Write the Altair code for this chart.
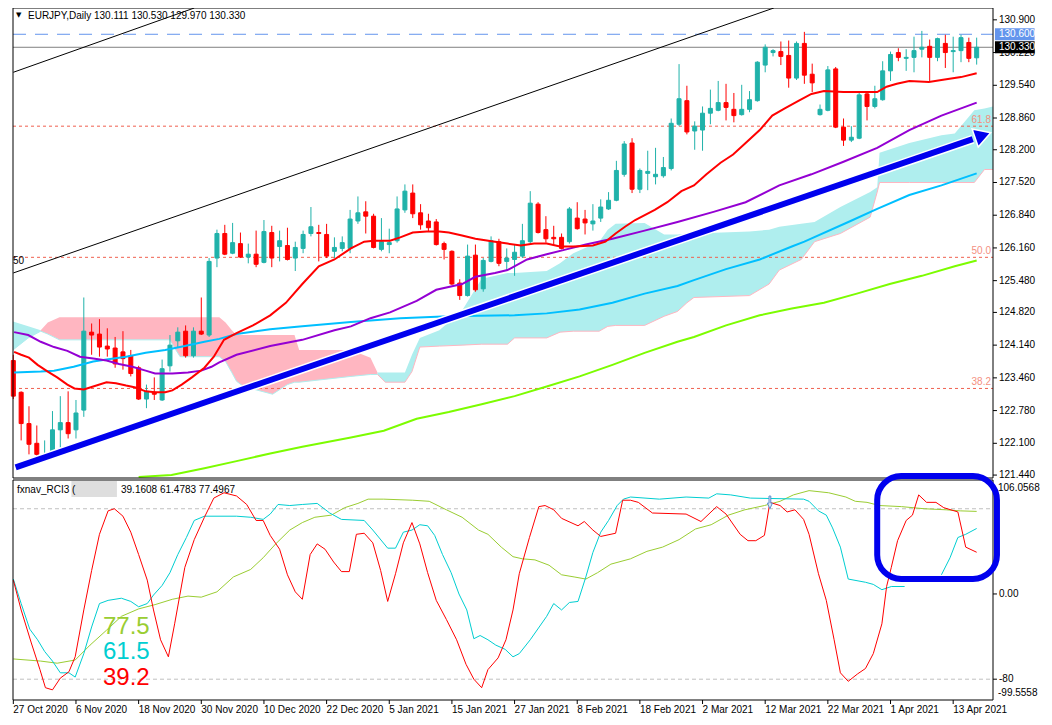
import altair as alt
import pandas as pd

# ---------------- data ----------------
DATE_LABELS = ["27 Oct 2020", "6 Nov 2020", "18 Nov 2020", "30 Nov 2020", "10 Dec 2020",
               "22 Dec 2020", "5 Jan 2021", "15 Jan 2021", "27 Jan 2021", "8 Feb 2021",
               "18 Feb 2021", "2 Mar 2021", "12 Mar 2021", "22 Mar 2021", "1 Apr 2021", "13 Apr 2021"]
DATE_BARS = [0, 8, 16, 24, 32, 40, 48, 56, 64, 72, 80, 88, 96, 104, 112, 120]
PRICE_TICKS = [130.9, 130.22, 129.54, 128.86, 128.2, 127.52, 126.84, 126.16, 125.48,
               124.82, 124.14, 123.46, 122.78, 122.1, 121.44]
PRICE_TICK_LABELS = ["130.900", "130.220", "129.540", "128.860", "128.200", "127.520", "126.840",
                     "126.160", "125.480", "124.820", "124.140", "123.460", "122.780", "122.100",
                     "121.440"]
RCI_TICKS = [0, -80]
RCI_TICK_LABELS = ["0.00", "-80"]

OPEN = [123.82, 123.16, 122.51, 122.10, 121.85, 121.93, 122.38, 122.53, 122.38, 122.79,
        124.41, 124.37, 124.12, 124.08, 124.00, 123.92, 123.67, 123.02, 123.16, 123.00,
        123.71, 124.23, 124.43, 123.92, 124.43, 124.35, 125.95, 126.46, 126.05, 126.25,
        125.97, 126.03, 125.86, 126.48, 126.19, 126.21, 125.95, 126.15, 126.46, 126.48,
        126.44, 126.09, 126.15, 126.15, 126.72, 126.91, 126.82, 126.13, 126.23, 126.31,
        126.95, 127.30, 126.89, 126.72, 126.70, 126.25, 126.09, 125.43, 125.17, 126.01,
        125.31, 125.88, 126.29, 125.88, 125.92, 125.99, 126.29, 127.07, 126.54, 126.38,
        126.38, 126.29, 126.78, 126.76, 126.66, 126.78, 126.97, 127.15, 127.69, 128.34,
        127.38, 127.71, 127.64, 127.66, 127.81, 128.73, 129.22, 128.59, 128.61, 128.96,
        129.02, 129.18, 129.04, 128.93, 129.04, 129.22, 129.96, 130.22, 130.24, 130.16,
        129.69, 130.41, 129.77, 128.93, 129.02, 129.88, 128.67, 128.40, 128.44, 129.36,
        129.10, 129.24, 129.84, 130.22, 130.10, 130.12, 130.29, 130.35, 130.12, 130.41,
        130.24, 130.26, 130.43, 130.111]
HIGH = [123.94, 123.18, 122.87, 122.47, 122.16, 122.77, 123.08, 123.18, 123.00, 125.13,
        124.59, 124.68, 124.49, 124.31, 124.43, 124.04, 123.71, 123.32, 123.47, 123.84,
        124.35, 124.51, 124.55, 124.51, 125.13, 125.95, 126.54, 126.64, 126.68, 126.48,
        126.25, 126.52, 126.74, 126.62, 126.52, 126.58, 126.29, 126.52, 127.01, 126.64,
        126.66, 126.38, 126.40, 126.95, 127.23, 127.13, 126.87, 126.78, 126.56, 127.23,
        127.48, 127.48, 127.07, 126.87, 126.76, 126.29, 126.11, 125.51, 126.23, 126.23,
        125.95, 126.40, 126.35, 126.15, 126.23, 126.66, 127.34, 127.11, 126.82, 126.62,
        126.46, 127.01, 127.11, 126.95, 127.07, 127.17, 127.32, 127.97, 128.38, 128.44,
        127.81, 128.18, 128.24, 128.05, 128.85, 129.98, 129.53, 128.79, 129.10, 129.45,
        129.63, 129.57, 129.38, 129.55, 129.42, 130.04, 130.39, 130.29, 130.45, 130.47,
        130.45, 130.65, 129.99, 129.14, 129.94, 129.92, 128.85, 128.69, 129.40, 129.40,
        129.53, 130.04, 130.24, 130.31, 130.29, 130.55, 130.67, 130.49, 130.53, 130.59,
        130.55, 130.59, 130.53, 130.530]
LOW = [123.02, 122.16, 121.87, 121.79, 121.83, 121.89, 121.99, 122.20, 122.20, 122.65,
       123.94, 123.90, 123.90, 123.67, 123.63, 123.49, 123.00, 122.83, 123.00, 122.98,
       123.59, 124.10, 123.88, 123.88, 124.35, 124.31, 125.76, 126.01, 126.03, 125.95,
       125.84, 125.76, 125.84, 125.76, 125.88, 125.90, 125.68, 126.05, 126.40, 125.88,
       125.95, 125.95, 126.09, 126.05, 126.66, 126.46, 126.15, 126.09, 126.05, 126.27,
       126.89, 126.78, 126.54, 126.50, 126.21, 125.92, 125.39, 125.08, 125.15, 125.25,
       125.25, 125.86, 125.78, 125.70, 125.58, 125.95, 126.25, 126.46, 126.27, 126.21,
       126.13, 126.25, 126.54, 126.44, 126.52, 126.70, 126.95, 127.13, 127.64, 127.30,
       127.30, 127.36, 127.48, 127.62, 127.77, 128.69, 128.52, 128.20, 128.18, 128.73,
       129.00, 128.81, 128.77, 128.91, 128.98, 129.20, 129.81, 130.14, 129.96, 129.49,
       129.65, 129.57, 129.40, 128.91, 129.00, 128.65, 128.28, 128.36, 128.42, 128.81,
       129.06, 129.22, 129.63, 130.04, 129.84, 129.81, 130.12, 129.63, 130.04, 129.90,
       129.81, 130.02, 130.02, 129.970]
CLOSE = [123.08, 122.51, 122.08, 121.87, 121.87, 122.38, 122.53, 122.30, 122.73, 124.43,
         124.35, 124.10, 124.06, 123.75, 123.86, 123.55, 123.02, 123.18, 123.12, 123.65,
         124.14, 124.41, 123.92, 124.43, 124.37, 125.88, 126.46, 126.03, 126.27, 125.97,
         126.03, 125.82, 126.50, 125.95, 126.31, 125.92, 126.17, 126.44, 126.60, 126.46,
         125.99, 126.17, 126.27, 126.76, 126.89, 126.82, 126.17, 126.29, 126.27, 126.97,
         127.34, 126.87, 126.64, 126.58, 126.23, 126.13, 125.41, 125.17, 125.99, 125.29,
         125.90, 126.31, 125.84, 125.95, 126.07, 126.31, 127.09, 126.48, 126.35, 126.35,
         126.15, 126.97, 126.56, 126.68, 126.72, 127.01, 127.15, 127.77, 128.32, 127.38,
         127.77, 127.75, 127.69, 127.83, 128.75, 129.26, 128.57, 128.69, 128.96, 129.06,
         129.18, 129.08, 128.91, 129.04, 129.24, 130.02, 130.33, 130.26, 130.14, 129.69,
         130.41, 129.75, 129.59, 129.04, 129.86, 128.67, 128.40, 128.46, 129.34, 129.10,
         129.26, 129.84, 130.18, 130.12, 130.12, 130.26, 130.33, 130.12, 130.51, 130.22,
         130.26, 130.53, 130.10, 130.330]

RED_MA_X = [0.1, 1, 2, 3.1, 4.4, 5.6, 6.9, 7.8, 9, 10.2, 11.9, 13.1, 14.4, 15.6, 16.9, 18.1, 19.4,
            20.3, 21.5, 22.8, 24.4, 25.6, 26.9, 28.5, 30.6, 32.8, 34.8, 36.9, 39, 41, 43.1, 44.8,
            46, 48.1, 49.4, 51, 52.8, 54.4, 55.6, 57.3, 59, 61.5, 63.1, 64.8, 66.5, 68.1, 69.8,
            71.5, 74, 75.6, 76.9, 78.1, 79.4, 81.9, 83.5, 85.3, 86.9, 88.5, 90.3, 91.9, 93.5,
            95.3, 96.9, 98.5, 100.3, 101.9, 103.5, 106, 108.5, 110.3, 111.5, 112.8, 114.4,
            116.9, 118.5, 121, 123]
RED_MA_Y = [124.00, 123.94, 123.88, 123.73, 123.59, 123.47, 123.32, 123.24, 123.22, 123.28,
            123.37, 123.35, 123.30, 123.26, 123.18, 123.16, 123.16, 123.20, 123.32, 123.47,
            123.67, 123.90, 124.25, 124.39, 124.55, 124.76, 125.02, 125.41, 125.78, 125.92,
            126.15, 126.29, 126.31, 126.31, 126.38, 126.48, 126.50, 126.50, 126.48, 126.42,
            126.35, 126.29, 126.25, 126.21, 126.25, 126.25, 126.19, 126.19, 126.21, 126.29,
            126.46, 126.60, 126.74, 126.95, 127.11, 127.34, 127.46, 127.69, 127.93, 128.10,
            128.34, 128.61, 128.91, 129.06, 129.22, 129.36, 129.42, 129.40, 129.40, 129.40,
            129.51, 129.57, 129.63, 129.61, 129.65, 129.71, 129.79]
PURPLE_MA_X = [0.1, 1.9, 3.5, 5.2, 6.9, 8.5, 10.2, 11.9, 13.5, 15.2, 16.9, 18.1, 20.3, 22.3, 24,
               25.3, 26.3, 28.5, 32.8, 36.9, 41, 43.1, 45.6, 48.1, 51.5, 54, 57.3, 59, 61.5,
               63.1, 65.6, 68.1, 70.6, 73.1, 76.5, 80.6, 84.8, 89.4, 93.5, 97.8, 101.9, 106,
               110.3, 114.4, 118.5, 123]
PURPLE_MA_Y = [124.41, 124.35, 124.21, 124.10, 124.02, 123.90, 123.86, 123.82, 123.75, 123.69,
               123.61, 123.55, 123.55, 123.57, 123.61, 123.69, 123.78, 123.94, 124.12, 124.25,
               124.45, 124.53, 124.70, 124.82, 125.06, 125.29, 125.41, 125.56, 125.64, 125.70,
               125.92, 126.03, 126.13, 126.23, 126.35, 126.52, 126.70, 126.91, 127.11, 127.46,
               127.69, 127.95, 128.24, 128.61, 128.91, 129.18]
BLUE_MA_X = [0.1, 3.5, 5.2, 7.7, 10.2, 11.9, 14.4, 16.9, 19.4, 21.9, 24.4, 26.3, 28.5, 32.8,
             36.9, 43.1, 49.4, 55.6, 64, 68.1, 72.3, 76.5, 80.6, 84.8, 86.9, 91, 95.3, 99.4,
             101, 106.9, 110.3, 114.4, 118.5, 123]
BLUE_MA_Y = [123.57, 123.59, 123.61, 123.69, 123.80, 123.84, 123.90, 123.98, 124.04, 124.12,
             124.21, 124.27, 124.37, 124.47, 124.53, 124.62, 124.70, 124.74, 124.76, 124.80,
             124.88, 125.02, 125.21, 125.37, 125.49, 125.72, 125.92, 126.19, 126.29, 126.72,
             126.97, 127.26, 127.46, 127.71]
GREEN_MA_X = [16, 20.2, 24.4, 28.5, 32.8, 36.9, 43.1, 47.3, 51.5, 55.6, 59.8, 64, 68.1, 72.3,
              76.5, 80.6, 84.8, 86.9, 91, 95.3, 99.4, 103.5, 107.7, 111.9, 116, 120.2, 123]
GREEN_MA_Y = [121.40, 121.44, 121.58, 121.73, 121.89, 122.03, 122.22, 122.36, 122.61, 122.75,
              122.91, 123.08, 123.28, 123.49, 123.73, 123.98, 124.21, 124.31, 124.55, 124.76,
              124.90, 125.02, 125.21, 125.41, 125.58, 125.78, 125.90]

# Ichimoku cloud: three pieces (cyan, pink, cyan)
CLOUD0_X = [-0.04, 1.9, 3.5]
CLOUD0_TOP = [124.63, 124.53, 124.45]
CLOUD0_BOT = [124.04, 124.29, 124.43]
CLOUD1_X = [3.5, 4.4, 5.9, 20, 20.6, 21.3, 26.3, 27.1, 27.9, 28.5, 29.4, 33.1, 35, 35.9, 36.5,
            43.1, 45.6, 46.5]
CLOUD1_TOP = [124.45, 124.61, 124.72, 124.72, 124.72, 124.72, 124.72, 124.61, 124.45, 124.35,
              124.35, 124.35, 124.35, 124.35, 124.04, 124.04, 123.88, 123.57]
CLOUD1_BOT = [124.43, 124.37, 124.25, 124.25, 124.08, 123.90, 123.90, 123.80, 123.57, 123.39,
              123.28, 123.12, 123.32, 123.37, 123.37, 123.49, 123.53, 123.53]
CLOUD2_X = [46.5, 47.5, 50, 50.9, 51.9, 54.4, 57.3, 59.8, 63.1, 64, 68.1, 69.8, 71.5, 74.8, 75.9,
            76.9, 80.6, 83.1, 84.8, 86, 86.9, 94, 96.5, 97.8, 100.6, 102.3, 105.6, 109.4, 110.3,
            110.6, 114.4, 118.5, 120.2, 122.7, 124, 125.08]
CLOUD2_TOP = [123.57, 123.57, 123.57, 123.94, 124.29, 124.45, 124.86, 125.52, 125.64, 125.64,
              125.68, 125.84, 126.05, 126.29, 126.54, 126.66, 126.68, 126.44, 126.44, 126.46,
              126.46, 126.50, 126.54, 126.60, 126.66, 126.70, 127.01, 127.32, 127.42, 128.14,
              128.34, 128.50, 128.54, 129.02, 129.06, 129.10]
CLOUD2_BOT = [123.53, 123.37, 123.37, 123.59, 124.10, 124.12, 124.14, 124.16, 124.16, 124.29,
              124.29, 124.41, 124.43, 124.43, 124.53, 124.55, 124.55, 124.74, 124.84, 125.02,
              125.13, 125.17, 125.41, 125.70, 125.92, 126.29, 126.46, 126.80, 127.32, 127.52,
              127.52, 127.52, 127.52, 127.52, 127.79, 127.79]

FIB_LEVELS = [128.69, 125.965, 123.24]
FIB_LABELS = ["61.8", "50.0", "38.2"]
CHANNEL1_X = [0, 23.1]
CHANNEL1_Y = [129.81, 131.146]
CHANNEL2_X = [0, 97.1]
CHANNEL2_Y = [125.64, 131.146]
TREND_X = [0.3, 122.5]
TREND_Y = [121.60, 128.42]
ARROW_HEAD = (123.8, 128.50)
ASK_LINE = 130.60
LAST_PRICE = 130.33

RCI_RED_X = [0, 1, 2.3, 3.4, 4.1, 5, 6, 7.1, 7.9, 9, 10, 11, 12.1, 12.9, 14, 15, 16, 17.1, 17.9,
             18.8, 19.8, 20.6, 21.9, 23.1, 24.4, 25.6, 26.9, 28.5, 29.8, 31, 31.9, 32.8, 34, 35,
             36, 36.9, 37.9, 38.8, 39.8, 40.9, 41.9, 42.9, 43.8, 44.8, 45.9, 46.9, 47.8, 48.8,
             49.8, 50.9, 51.9, 52.9, 54, 55.3, 56.6, 57.8, 58.8, 59.8, 60.6, 61.9, 62.9, 63.8,
             64.6, 65.9, 67.1, 67.9, 69, 70, 72.1, 72.9, 74, 75, 76.9, 77.8, 78.8, 79.8, 81.6,
             85.9, 87.8, 89.8, 91, 92.8, 93.8, 94.8, 95.9, 96.6, 97.9, 98.8, 99.8, 100.9, 101.6,
             102.8, 103.8, 104.8, 105.6, 106.6, 107.8, 108.8, 109.8, 110.9, 111.5, 112.1, 112.9,
             114, 114.8, 115.6, 116.6, 117.8, 118.8, 120.6, 121.6, 123]
RCI_RED_V = [13, -15, -46, -71, -88, -90, -79, -73, -59, -15, 22, 56, 78, 80, 73, 58, 37, 13, -15,
             -43, -59, -28, 25, 51, 72, 90, 95, 92, 84, 69, 69, 55, 42, 18, 2, -5, 37, 47, 42, 30,
             21, 21, 56, 57, 48, 22, -7, 19, 48, 67, 47, 20, -6, -24, -43, -66, -80, -88, -71,
             -60, -43, -15, 19, 53, 82, 83, 79, 71, 64, 68, 60, 54, 57, 88, 88, 86, 76, 75, 68,
             82, 75, 56, 50, 50, 55, 86, 83, 77, 79, 70, 56, 19, -6, -43, -74, -82, -75, -70,
             -56, -28, 7, 25, 50, 69, 74, 93, 86, 86, 81, 77, 44, 39.16]
RCI_CYAN_X = [0, 1, 2.1, 3.1, 4, 5, 6, 7.1, 7.9, 9, 10, 11, 12.1, 13.8, 15, 16, 17.1, 17.9, 19, 20,
              21, 22.1, 23.1, 24.4, 28.5, 30.3, 31.9, 32.8, 33.8, 35.3, 36.9, 38.8, 40.4, 41.9,
              44.8, 45.9, 47.8, 48.8, 49.8, 50.9, 51.9, 52.9, 53.8, 54.8, 55.9, 56.9, 57.9, 58.8,
              59.6, 60.6, 61.6, 62.8, 63.8, 64.6, 66, 68.1, 69, 70, 71, 72.1, 73.1, 74, 75, 76,
              77.1, 77.9, 78.8, 82.5, 85.9, 88.8, 89.8, 91.6, 94.1, 100.9, 101.6, 102.8, 103.8,
              104.6, 105.6, 106.6, 108.8, 109.8, 110.9, 112.1, 113.8]
RCI_CYAN_V = [14, -9, -33, -43, -54, -63, -74, -74, -78, -56, -31, -9, -6, -4, -7, -12, -9, -1, 8,
              20, 37, 53, 69, 73, 73, 72, 70, 75, 84, 83, 84, 85, 76, 70, 69, 60, 43, 43, 58, 60,
              65, 64, 55, 37, 20, 0, -15, -42, -39, -43, -48, -52, -59, -56, -43, -21, -9, -15,
              -8, -7, 16, 39, 58, 69, 83, 89, 91, 89, 91, 90, 94, 93, 90, 89, 87, 78, 74, 62, 44,
              14, 11, 9, 4, 7, 7]
RCI_CYAN2_X = [118.5, 119.6, 120.6, 121.6, 123]
RCI_CYAN2_V = [18, 34, 53, 56, 61.48]
RCI_GREEN_X = [0, 3.5, 5.6, 7.9, 9.8, 11.9, 13.8, 16, 18.1, 20.3, 22.3, 24, 26, 28.1, 30.3, 31.9,
               33.5, 35.3, 36.9, 38.5, 40.6, 42.3, 44, 45.3, 47.3, 51, 53.1, 55.3, 57.3, 59.4,
               60.6, 62.3, 63.8, 65, 66.6, 68.4, 70, 71.6, 73.1, 74.6, 76.3, 78.8, 80.9, 82.9, 85,
               87.1, 89.1, 91.3, 93.4, 95.9, 97.9, 99.6, 101.6, 104.1, 106.3, 107.5, 109, 110.6,
               113.4, 116.3, 119.1, 120.9, 123]
RCI_GREEN_V = [-61, -63, -65, -62, -48, -34, -21, -14, -10, -5, -2, -3, 2, 16, 23, 34, 47, 60, 67,
               72, 74, 81, 85, 89, 89, 88, 87, 79, 72, 60, 56, 44, 35, 33, 32, 27, 18, 16, 14, 20,
               28, 33, 40, 44, 51, 61, 65, 74, 79, 83, 87, 93, 97, 95, 91, 87, 86, 83, 82, 80, 79,
               78, 77.5]
RCI_LEVELS = [80, -80]
RCI_BOX = (110.3, 125.59, 110.7, 14.1)   # x1, x2, v_top, v_bottom
RCI_SIGNAL = (96.6, 86)
RCI_BIG = ["77.5", "61.5", "39.2"]
RCI_BIG_POS = [-38.0, -61.5, -85.0]

# ---------------- geometry ----------------
X0, X1 = -0.04, 125.085            # bar-index range of the plot
P_LO, P_HI = 121.379, 131.146      # visible price range (upper panel)
R_LO, R_HI = -99.53, 106.98        # visible RCI range (lower panel)
PLOT_W, PLOT_H = 990, 692
UP_H, GAP = 470, 2
P_PER_PX = (P_HI - P_LO) / UP_H
R_PER_PX = (R_HI - R_LO) / (PLOT_H - UP_H - GAP)
P_DOMAIN = [P_HI - PLOT_H * P_PER_PX, P_HI]
R_DOMAIN = [R_LO, R_LO + PLOT_H * R_PER_PX]
BAR_PX = PLOT_W / (X1 - X0)

FONT = "Liberation Sans"
BULL, BEAR = "#20b2aa", "#ff0000"
xs = alt.Scale(domain=[X0, X1], nice=False, zero=False)
ps = alt.Scale(domain=P_DOMAIN, nice=False, zero=False)
rs = alt.Scale(domain=R_DOMAIN, nice=False, zero=False)

def X(f="i"):
    return alt.X(f"{f}:Q", scale=xs, axis=None)

def Y(f):
    return alt.Y(f"{f}:Q", scale=ps, axis=None)

def R(f):
    return alt.Y(f"{f}:Q", scale=rs, axis=None)

def pt(x, y):
    return pd.DataFrame({"i": [x], "v": [y]})

# ---------------- upper (price) panel ----------------
candles = pd.DataFrame({"i": list(range(len(OPEN))), "o": OPEN, "h": HIGH, "l": LOW, "c": CLOSE})
candles["col"] = [BULL if c >= o else BEAR for o, c in zip(OPEN, CLOSE)]

cloud_rows = []
for seg, (xx, tt, bb, fill, edge) in enumerate([
        (CLOUD0_X, CLOUD0_TOP, CLOUD0_BOT, "#afeeee", "#afeeee"),
        (CLOUD1_X, CLOUD1_TOP, CLOUD1_BOT, "#ffb6c1", "#afeeee"),
        (CLOUD2_X, CLOUD2_TOP, CLOUD2_BOT, "#afeeee", "#ffb6c1")]):
    for a, b, c in zip(xx, tt, bb):
        cloud_rows.append({"i": a, "top": b, "bot": c, "seg": seg, "fill": fill, "edge": edge})
cloud = pd.DataFrame(cloud_rows)

layers = []
layers.append(alt.Chart(cloud).mark_area(opacity=1).encode(
    x=X(), y=Y("top"), y2="bot:Q", color=alt.Color("fill:N", scale=None), detail="seg:N"))
layers.append(alt.Chart(cloud).mark_line(strokeWidth=1).encode(
    x=X(), y=Y("bot"), color=alt.Color("edge:N", scale=None), detail="seg:N"))

fib = pd.DataFrame({"v": FIB_LEVELS, "t": FIB_LABELS, "x0": [X0] * 3, "x1": [X1] * 3})
layers.append(alt.Chart(fib).mark_rule(color="#f0604f", strokeDash=[3, 3], strokeWidth=1).encode(
    x=X("x0"), x2="x1:Q", y=Y("v")))

hl = pd.DataFrame({"v": [ASK_LINE, LAST_PRICE], "x0": [X0, X0], "x1": [X1, X1], "k": ["ask", "last"]})
layers.append(alt.Chart(hl[hl.k == "ask"]).mark_rule(color="#6495ed", strokeDash=[13, 9]).encode(
    x=X("x0"), x2="x1:Q", y=Y("v")))
layers.append(alt.Chart(hl[hl.k == "last"]).mark_rule(color="#808080").encode(
    x=X("x0"), x2="x1:Q", y=Y("v")))

chan = pd.DataFrame({"i": CHANNEL1_X + CHANNEL2_X, "v": CHANNEL1_Y + CHANNEL2_Y, "k": [1, 1, 2, 2]})
layers.append(alt.Chart(chan).mark_line(color="black", strokeWidth=1).encode(
    x=X(), y=Y("v"), detail="k:N"))

layers.append(alt.Chart(candles).mark_rule(strokeWidth=1).encode(
    x=X(), y=Y("l"), y2="h:Q", color=alt.Color("col:N", scale=None)))
layers.append(alt.Chart(candles).mark_bar(size=4, strokeWidth=1).encode(
    x=X(), y=Y("o"), y2="c:Q", color=alt.Color("col:N", scale=None), stroke=alt.Color("col:N", scale=None)))

ma_rows = []
for name, xx, vv, col in [("g", GREEN_MA_X, GREEN_MA_Y, "#7cfc00"), ("b", BLUE_MA_X, BLUE_MA_Y, "#00bfff"),
                          ("p", PURPLE_MA_X, PURPLE_MA_Y, "#9400d3"), ("r", RED_MA_X, RED_MA_Y, "#ff0000")]:
    for a, b in zip(xx, vv):
        ma_rows.append({"i": a, "v": b, "ma": name, "col": col})
layers.append(alt.Chart(pd.DataFrame(ma_rows)).mark_line(strokeWidth=2).encode(
    x=X(), y=Y("v"), color=alt.Color("col:N", scale=None), detail="ma:N"))

trend = pd.DataFrame({"i": TREND_X, "v": TREND_Y})
layers.append(alt.Chart(trend).mark_line(color="white", strokeWidth=9).encode(x=X(), y=Y("v")))
layers.append(alt.Chart(trend).mark_line(color="#0000ee", strokeWidth=6).encode(x=X(), y=Y("v")))
layers.append(alt.Chart(pt(*ARROW_HEAD)).mark_point(
    shape="triangle-right", size=360, filled=True, fill="#0000ee", stroke="white", strokeWidth=1.5,
    opacity=1, angle=341).encode(x=X(), y=Y("v")))

layers.append(alt.Chart(fib).mark_text(align="right", baseline="bottom", dx=-2, dy=-1, font=FONT,
                                       fontSize=10, color="#f4907f").encode(x=X("x1"), y=Y("v"), text="t:N"))
layers.append(alt.Chart(pt(X0, FIB_LEVELS[1])).mark_text(
    align="left", baseline="top", dy=-1, font=FONT, fontSize=10, color="black", text="50").encode(
    x=X(), y=Y("v")))

layers.append(alt.Chart(pd.DataFrame({"x0": [X0], "x1": [X1], "a": [P_HI], "b": [P_LO]})).mark_rect(
    fillOpacity=0, stroke="black", strokeWidth=1).encode(x=X("x0"), x2="x1:Q", y=Y("a"), y2="b:Q"))

pticks = pd.DataFrame({"v": PRICE_TICKS, "t": PRICE_TICK_LABELS, "x0": [X1] * len(PRICE_TICKS),
                       "x1": [X1 + 4 / BAR_PX] * len(PRICE_TICKS)})
layers.append(alt.Chart(pticks).mark_rule(color="black", strokeWidth=1).encode(
    x=X("x0"), x2="x1:Q", y=Y("v")))
layers.append(alt.Chart(pticks).mark_text(font=FONT, fontSize=10, align="left", baseline="middle",
                                          dx=6, color="black").encode(x=X("x0"), y=Y("v"), text="t:N"))

boxes = pd.DataFrame({"v": [ASK_LINE, LAST_PRICE], "lo": [ASK_LINE - 6 * P_PER_PX, LAST_PRICE - 6 * P_PER_PX],
                      "hi": [ASK_LINE + 6 * P_PER_PX, LAST_PRICE + 6 * P_PER_PX],
                      "x0": [X1 + 2 / BAR_PX] * 2, "x1": [X1 + 42 / BAR_PX] * 2,
                      "fill": ["#6495ed", "#000000"], "t": ["130.600", "130.330"]})
layers.append(alt.Chart(boxes).mark_rect().encode(
    x=X("x0"), x2="x1:Q", y=Y("lo"), y2="hi:Q", color=alt.Color("fill:N", scale=None)))
layers.append(alt.Chart(boxes).mark_text(font=FONT, fontSize=10, color="white", align="left", dx=4).encode(
    x=X("x0"), y=Y("v"), text="t:N"))

layers.append(alt.Chart(pt(X0, P_HI)).mark_text(
    text="▼", font="DejaVu Sans", fontSize=7, align="left", baseline="alphabetic", dx=3, dy=9).encode(
    x=X(), y=Y("v")))
layers.append(alt.Chart(pt(X0, P_HI)).mark_text(
    text="EURJPY,Daily  130.111 130.530 129.970 130.330", font=FONT, fontSize=10, align="left",
    baseline="alphabetic", dx=15, dy=11).encode(x=X(), y=Y("v")))

# ---------------- lower (RCI) panel ----------------
rci_rows = []
for seg, (xx, vv, col) in enumerate([(RCI_GREEN_X, RCI_GREEN_V, "#9acd32"),
                                      (RCI_CYAN_X, RCI_CYAN_V, "#00ced1"),
                                      (RCI_CYAN2_X, RCI_CYAN2_V, "#00ced1"),
                                      (RCI_RED_X, RCI_RED_V, "#ff0000")]):
    for a, b in zip(xx, vv):
        rci_rows.append({"i": a, "v": b, "seg": seg, "col": col})
rci = pd.DataFrame(rci_rows)

lv = pd.DataFrame({"v": RCI_LEVELS, "x0": [X0] * 2, "x1": [X1] * 2})
layers.append(alt.Chart(lv).mark_rule(color="#c0c0c0", strokeDash=[4, 3], strokeWidth=1).encode(
    x=X("x0"), x2="x1:Q", y=R("v")))
layers.append(alt.Chart(rci).mark_line(strokeWidth=1).encode(
    x=X(), y=R("v"), color=alt.Color("col:N", scale=None), detail="seg:N"))
layers.append(alt.Chart(pt(*RCI_SIGNAL)).mark_point(
    shape="arrow", angle=180, size=160, filled=True, fill="#dbe8f8", stroke="#5b8fd0", strokeWidth=1,
    opacity=1).encode(x=X(), y=R("v")))

layers.append(alt.Chart(pd.DataFrame({"x0": [X0], "x1": [X1], "a": [R_HI], "b": [R_LO]})).mark_rect(
    fillOpacity=0, stroke="black", strokeWidth=1).encode(x=X("x0"), x2="x1:Q", y=R("a"), y2="b:Q"))

hdr_box = pd.DataFrame({"x0": [X0 + 59 / BAR_PX], "x1": [X0 + 105 / BAR_PX],
                        "a": [R_HI - 1 * R_PER_PX], "b": [R_HI - 17 * R_PER_PX]})
layers.append(alt.Chart(hdr_box).mark_rect(color="#dedede").encode(
    x=X("x0"), x2="x1:Q", y=R("a"), y2="b:Q"))
layers.append(alt.Chart(pt(X0, R_HI)).mark_text(
    text="fxnav_RCI3 (", font=FONT, fontSize=10, align="left", baseline="alphabetic", dx=4, dy=13).encode(
    x=X(), y=R("v")))
layers.append(alt.Chart(pt(X0, R_HI)).mark_text(
    text="39.1608 61.4783 77.4967", font=FONT, fontSize=10, align="left", baseline="alphabetic",
    dx=108, dy=13).encode(x=X(), y=R("v")))

big = pd.DataFrame({"t": RCI_BIG, "v": RCI_BIG_POS, "i": [X0] * 3, "col": ["#9acd32", "#00ced1", "#ff0000"]})
layers.append(alt.Chart(big).mark_text(font=FONT, fontSize=24, align="left", baseline="alphabetic", dx=90).encode(
    x=X(), y=R("v"), text="t:N", color=alt.Color("col:N", scale=None)))

rticks = pd.DataFrame({"v": RCI_TICKS, "t": RCI_TICK_LABELS, "x0": [X1] * 2, "x1": [X1 + 4 / BAR_PX] * 2})
layers.append(alt.Chart(rticks).mark_rule(color="black", strokeWidth=1).encode(
    x=X("x0"), x2="x1:Q", y=R("v")))
layers.append(alt.Chart(rticks).mark_text(font=FONT, fontSize=10, align="left", baseline="middle", dx=6,
                                          color="black").encode(x=X("x0"), y=R("v"), text="t:N"))
side = pd.DataFrame({"t": ["106.0568", "-99.5558"], "v": [R_HI, R_LO], "i": [X1, X1]})
layers.append(alt.Chart(side.iloc[[0]]).mark_text(font=FONT, fontSize=10, align="left", baseline="middle",
                                                  dx=5, dy=8).encode(x=X(), y=R("v"), text="t:N"))
layers.append(alt.Chart(side.iloc[[1]]).mark_text(font=FONT, fontSize=10, align="left", baseline="middle",
                                                  dx=5, dy=-7).encode(x=X(), y=R("v"), text="t:N"))

dates = pd.DataFrame({"i": DATE_BARS, "t": DATE_LABELS, "a": [R_LO] * len(DATE_BARS),
                      "b": [R_LO - 4 * R_PER_PX] * len(DATE_BARS)})
layers.append(alt.Chart(dates).mark_rule(color="black", strokeWidth=1).encode(
    x=X(), y=R("a"), y2="b:Q"))
layers.append(alt.Chart(dates).mark_text(font=FONT, fontSize=10, align="left", baseline="middle", dy=10,
                                         color="black").encode(x=X(), y=R("a"), text="t:N"))

box = pd.DataFrame({"x0": [RCI_BOX[0]], "x1": [RCI_BOX[1]], "a": [RCI_BOX[2]], "b": [RCI_BOX[3]]})
layers.append(alt.Chart(box).mark_rect(fillOpacity=0, stroke="#0000ee", strokeWidth=6, cornerRadius=24).encode(
    x=X("x0"), x2="x1:Q", y=R("a"), y2="b:Q"))

chart = alt.layer(*layers).resolve_scale(y="independent").properties(
    width=PLOT_W, height=PLOT_H,
    autosize=alt.AutoSizeParams(type="none"),
    padding={"left": 0, "top": 0, "right": 46, "bottom": 17},
    background="white"
).configure_view(strokeWidth=0)

chart.save("out.html", embed_options={"renderer": "svg", "actions": False})
